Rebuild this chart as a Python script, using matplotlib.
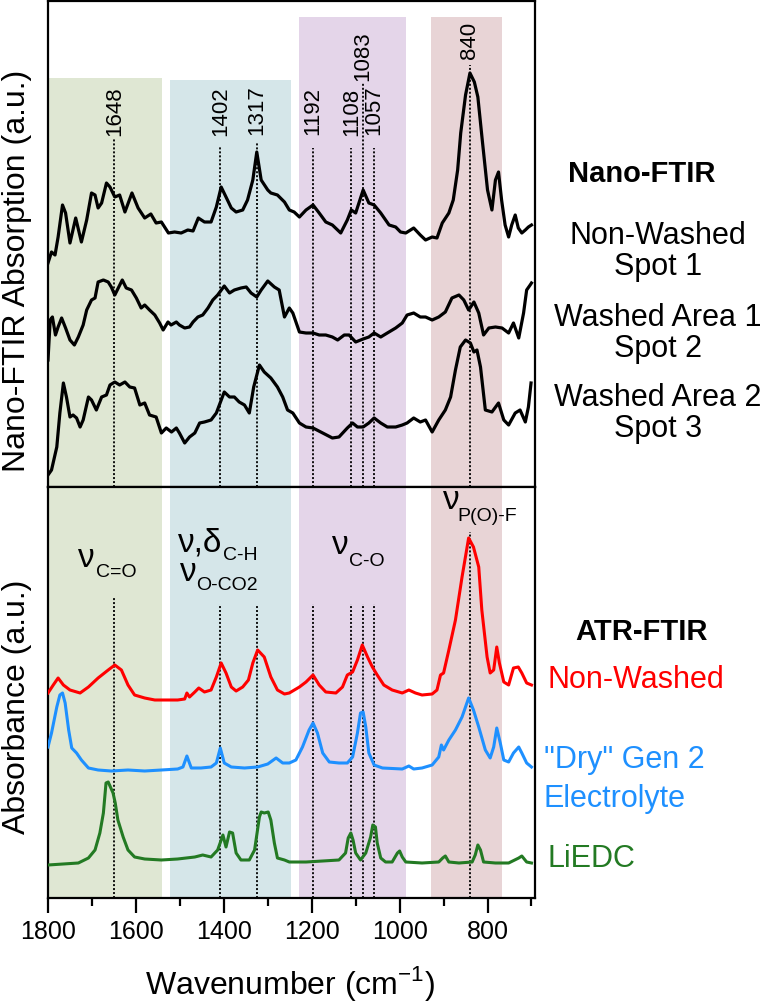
import matplotlib
matplotlib.use('Agg')
import matplotlib.pyplot as plt
from matplotlib.ticker import MultipleLocator

plt.rcParams['font.family'] = ['Liberation Sans', 'DejaVu Sans']
plt.rcParams['mathtext.fontset'] = 'custom'
plt.rcParams['mathtext.rm'] = 'Liberation Sans'

# ---------------- data (a.u., traces already vertically offset) ----------------
nano_nonwashed_wn = [1800, 1792, 1784, 1777, 1767, 1760, 1750, 1737, 1724, 1712, 1701, 1693, 1686, 1678, 1667,
                     1659, 1648, 1637, 1625, 1609, 1595, 1580, 1566, 1554, 1542, 1526, 1512, 1497, 1482, 1470,
                     1458, 1444, 1429, 1417, 1406, 1395, 1383, 1372, 1357, 1346, 1334, 1325, 1315, 1300, 1293,
                     1278, 1262, 1251, 1240, 1228, 1213, 1197, 1183, 1168, 1153, 1134, 1119, 1110, 1100, 1083,
                     1070, 1058, 1043, 1024, 1009, 998, 986, 968, 953, 941, 926, 915, 903, 888, 878, 868, 861,
                     850, 840, 830, 822, 812, 800, 790, 782, 775, 768, 760, 752, 745, 737, 730, 722, 714, 707, 700]
nano_nonwashed_y = [224, 235, 232, 250, 282, 274, 244, 269, 245, 267, 294, 292, 279, 284, 304,
                    300, 290, 292, 275, 294, 279, 269, 273, 264, 265, 254, 255, 254, 257, 256,
                    269, 265, 265, 280, 300, 290, 279, 275, 277, 287, 307, 335, 307, 297, 294,
                    292, 285, 277, 275, 270, 277, 282, 274, 265, 262, 254, 267, 277, 274, 297,
                    284, 282, 274, 262, 260, 255, 254, 259, 252, 247, 250, 249, 264, 274, 287, 317, 354,
                    392, 414, 405, 390, 347, 297, 277, 307, 315, 287, 262, 250, 262, 272, 259, 254, 257, 260, 262]

nano_washed1_wn = [1800, 1795, 1790, 1783, 1777, 1769, 1760, 1750, 1740, 1731, 1720, 1712, 1701, 1693, 1686,
                   1674, 1663, 1656, 1648, 1639, 1631, 1622, 1610, 1599, 1588, 1580, 1569, 1557, 1546, 1538,
                   1527, 1520, 1508, 1501, 1489, 1478, 1470, 1459, 1448, 1436, 1425, 1414, 1399, 1387, 1376,
                   1361, 1349, 1338, 1325, 1315, 1300, 1285, 1274, 1262, 1251, 1243, 1228, 1213, 1197, 1183,
                   1168, 1153, 1141, 1126, 1115, 1100, 1083, 1070, 1058, 1043, 1028, 1009, 994, 983, 968,
                   953, 941, 926, 911, 896, 881, 865, 854, 843, 831, 820, 809, 797, 782, 767, 752, 741,
                   729, 718, 711, 703, 700]
nano_washed1_y = [127, 167, 170, 152, 160, 169, 159, 147, 142, 150, 162, 177, 187, 189, 205,
                  207, 205, 200, 192, 200, 207, 199, 197, 189, 179, 182, 177, 172, 164, 157,
                  165, 162, 165, 162, 159, 160, 165, 170, 172, 179, 187, 192, 201, 194, 197,
                  199, 200, 194, 190, 197, 206, 200, 197, 170, 179, 174, 155, 154, 154, 152,
                  152, 150, 147, 152, 152, 145, 148, 150, 154, 150, 154, 159, 164, 172, 174,
                  170, 170, 167, 170, 175, 189, 192, 187, 177, 185, 174, 152, 159, 160, 159, 154, 164,
                  149, 174, 197, 202, 204]

nano_washed2_wn = [1800, 1792, 1780, 1773, 1765, 1758, 1750, 1743, 1735, 1727, 1720, 1708, 1701, 1690, 1678,
                   1667, 1659, 1648, 1637, 1625, 1614, 1603, 1591, 1580, 1569, 1554, 1542, 1531, 1519, 1508,
                   1501, 1489, 1478, 1466, 1455, 1444, 1429, 1417, 1399, 1387, 1376, 1365, 1353, 1342, 1332,
                   1319, 1308, 1293, 1278, 1266, 1255, 1243, 1228, 1213, 1197, 1175, 1153, 1138, 1119, 1107,
                   1096, 1083, 1070, 1058, 1043, 1028, 1009, 994, 983, 968, 953, 941, 926, 911, 896, 884,
                   873, 862, 850, 839, 831, 824, 816, 805, 790, 775, 763, 752, 737, 726, 714, 707, 701]
nano_washed2_y = [12, 17, 40, 74, 104, 90, 70, 72, 69, 60, 67, 90, 87, 77, 90,
                  92, 102, 105, 102, 105, 100, 99, 82, 84, 72, 70, 54, 59, 55, 59,
                  54, 44, 50, 54, 64, 65, 67, 74, 95, 90, 90, 85, 82, 74, 100,
                  122, 115, 109, 100, 90, 77, 74, 64, 60, 59, 54, 49, 50, 59, 64,
                  60, 60, 64, 69, 64, 60, 60, 62, 64, 69, 65, 67, 55, 67, 77, 90,
                  117, 140, 147, 144, 135, 137, 120, 77, 75, 84, 67, 62, 74, 77, 65, 80, 104]

atr_nonwashed_wn = [1800, 1788, 1777, 1765, 1750, 1727, 1708, 1686, 1663, 1648, 1633, 1618, 1603, 1580, 1557,
                    1535, 1505, 1489, 1484, 1478, 1466, 1457, 1444, 1429, 1417, 1406, 1395, 1383, 1372, 1357,
                    1344, 1334, 1323, 1308, 1293, 1278, 1262, 1251, 1228, 1213, 1197, 1183, 1168, 1145, 1130,
                    1119, 1107, 1096, 1085, 1073, 1062, 1051, 1036, 1017, 994, 979, 964, 949, 926, 915, 907,
                    900, 888, 873, 858, 843, 832, 820, 813, 801, 794, 786, 779, 773, 763, 752, 741, 730, 722,
                    711, 700]
atr_nonwashed_y = [204, 212, 219, 212, 207, 204, 210, 219, 227, 232, 227, 212, 202, 199, 197,
                   197, 197, 198, 204, 200, 205, 209, 205, 207, 220, 234, 224, 210, 206, 210,
                   217, 234, 247, 240, 220, 207, 203, 204, 210, 215, 222, 212, 205, 204, 210,
                   222, 225, 237, 252, 240, 230, 222, 212, 207, 204, 207, 204, 202, 203, 207, 222,
                   224, 247, 277, 320, 359, 350, 330, 287, 240, 224, 227, 250, 234, 215, 212, 229, 230, 224,
                   214, 212]

atr_dry_wn = [1800, 1792, 1780, 1773, 1767, 1761, 1753, 1746, 1735, 1724, 1708, 1686, 1656, 1618, 1580,
              1542, 1505, 1493, 1484, 1474, 1452, 1429, 1417, 1408, 1399, 1383, 1353, 1323, 1300, 1281,
              1266, 1251, 1236, 1221, 1206, 1197, 1187, 1175, 1160, 1138, 1119, 1107, 1096, 1089, 1083,
              1077, 1070, 1058, 1039, 994, 979, 968, 949, 926, 911, 905, 900, 888, 873, 858, 843, 832,
              820, 805, 794, 786, 779, 771, 763, 752, 741, 729, 722, 711, 700]
atr_dry_y = [150, 164, 190, 202, 204, 194, 167, 149, 144, 137, 129, 127, 126, 127, 126,
             127, 128, 130, 141, 129, 129, 130, 134, 149, 134, 130, 129, 130, 133, 139,
             134, 134, 137, 150, 167, 174, 164, 144, 135, 134, 134, 140, 164, 184, 185,
             170, 144, 132, 129, 128, 131, 128, 129, 132, 140, 152, 147, 157, 167, 180, 199, 187,
             170, 147, 139, 150, 169, 154, 137, 135, 144, 150, 144, 134, 130]

atr_liedc_wn = [1800, 1731, 1708, 1693, 1682, 1674, 1668, 1663, 1658, 1652, 1647, 1641, 1629, 1618, 1603,
                1580, 1542, 1505, 1466, 1448, 1429, 1414, 1402, 1395, 1387, 1380, 1372, 1361, 1342, 1330,
                1319, 1315, 1308, 1299, 1293, 1285, 1278, 1262, 1251, 1213, 1175, 1138, 1123, 1117, 1111,
                1106, 1100, 1089, 1077, 1066, 1061, 1055, 1051, 1043, 1032, 1017, 1005, 1000, 994, 986,
                949, 911, 902, 896, 888, 865, 835, 828, 822, 816, 809, 782, 752, 729, 722, 711, 700]
atr_liedc_y = [32, 34, 39, 47, 64, 84, 114, 115, 110, 104, 94, 77, 60, 47, 40,
               38, 37, 38, 40, 42, 40, 47, 62, 50, 65, 64, 44, 37, 37, 47,
               80, 85, 84, 85, 77, 54, 39, 37, 35, 35, 36, 37, 44, 59, 64,
               57, 44, 37, 44, 60, 72, 70, 54, 39, 35, 35, 44, 46, 40, 35,
               34, 35, 39, 41, 35, 34, 35, 42, 52, 47, 35, 34, 34, 39, 41, 35, 34]

band_ranges = [(1800, 1540), (1522, 1247), (1229, 985), (929, 766)]
band_colors = ['#dfe7d3', '#d5e6e9', '#e4d5e9', '#e8d4d6']
band_tops_nano = [409, 407, 470, 470]

line_pos = [1649, 1408, 1325, 1197, 1110, 1083, 1058, 840]
line_labels = ['1648', '1402', '1317', '1192', '1108', '1083', '1057', '840']
line_top_nano = [349, 340, 344, 339, 339, 404, 339, 422]
label_bottom_nano = [351, 351, 352, 352, 351, 406, 352, 428]
line_top_atr = [300, 292, 292, 293, 293, 293, 293, 365]

# annotation texts in ATR panel: (text, left wavenumber, baseline, size)
atr_annots = [('ν', 1732, 330, 24), ('C=O', 1691, 320, 14),
              ('ν,δ', 1504, 346, 24), ('C-H', 1401, 337, 14),
              ('ν', 1499, 316, 24), ('O-CO2', 1463, 307, 14),
              ('ν', 1153, 343, 24), ('C-O', 1116, 331, 14),
              ('ν', 902, 388, 24), ('P(O)-F', 868, 376, 14)]

nano_names = ['Non-Washed\nSpot 1', 'Washed Area 1\nSpot 2', 'Washed Area 2\nSpot 3']
nano_name_tops = [221, 303, 383]

# ---------------- figure ----------------
W, H = 769, 1001
fig = plt.figure(figsize=(W / 100, H / 100), dpi=100)


def rect(x0, y0, x1, y1):
    return [x0 / W, 1 - y1 / H, (x1 - x0) / W, (y1 - y0) / H]


ax1 = fig.add_axes(rect(48, 1, 535, 487))
ax2 = fig.add_axes(rect(48, 487, 535, 898))

for ax in (ax1, ax2):
    ax.set_xlim(1800, 692)
    for s in ax.spines.values():
        s.set_linewidth(1.6)
    ax.set_yticks([])

ax1.set_ylim(0, 486)
ax2.set_ylim(-1, 410)

for (a, b), c, t in zip(band_ranges, band_colors, band_tops_nano):
    ax1.axvspan(b, a, ymin=0, ymax=t / 486, color=c, lw=0, zorder=0)
    ax2.axvspan(b, a, color=c, lw=0, zorder=0)

for x, t1, lb, lab, t2 in zip(line_pos, line_top_nano, label_bottom_nano, line_labels, line_top_atr):
    ax1.plot([x, x], [0, t1], color='k', lw=1.3, dashes=(1.1, 1.1), zorder=1)
    ax2.plot([x, x], [-1, t2], color='k', lw=1.3, dashes=(1.1, 1.1), zorder=1)
    ax1.text(x, lb, lab, rotation=90, ha='center', va='bottom', fontsize=16)

black_lw = 2.3
ax1.plot(nano_nonwashed_wn, nano_nonwashed_y, color='k', lw=black_lw, solid_joinstyle='round', zorder=3)
ax1.plot(nano_washed1_wn, nano_washed1_y, color='k', lw=black_lw, solid_joinstyle='round', zorder=3)
ax1.plot(nano_washed2_wn, nano_washed2_y, color='k', lw=black_lw, solid_joinstyle='round', zorder=3)

red, blue, green = '#ff0000', '#1e90ff', '#237a23'
ax2.plot(atr_nonwashed_wn, atr_nonwashed_y, color=red, lw=2.2, solid_joinstyle='round', zorder=3)
ax2.plot(atr_dry_wn, atr_dry_y, color=blue, lw=2.2, solid_joinstyle='round', zorder=3)
ax2.plot(atr_liedc_wn, atr_liedc_y, color=green, lw=2.2, solid_joinstyle='round', zorder=3)

for txt, x, y, fs in atr_annots:
    ax2.text(x, y, txt, ha='left', va='baseline', fontsize=fs, zorder=4)

ax1.set_xticks([])
ax2.xaxis.set_major_locator(MultipleLocator(200))
ax2.xaxis.set_minor_locator(MultipleLocator(100))
ax2.tick_params(axis='x', which='major', length=11, width=1.6, labelsize=18, pad=5)
ax2.tick_params(axis='x', which='minor', length=6, width=1.6)
ax2.tick_params(axis='y', left=False)


def ft(x, y, s, **kw):
    fig.text(x / W, 1 - y / H, s, **kw)


ft(17, 271, 'Nano-FTIR Absorption (a.u.)', rotation=90, ha='center', va='center', fontsize=23)
ft(17, 707, 'Absorbance (a.u.)', rotation=90, ha='center', va='center', fontsize=23)
ft(290, 994, r'Wavenumber (cm$^{\mathregular{-1}}$)', ha='center', va='baseline', fontsize=23)

ft(642, 182, 'Nano-FTIR', ha='center', va='baseline', fontsize=21, fontweight='bold')
for name, top in zip(nano_names, nano_name_tops):
    ft(658, top, name, ha='center', va='top', multialignment='center', fontsize=22, linespacing=1.05)

ft(642, 640, 'ATR-FTIR', ha='center', va='baseline', fontsize=21, fontweight='bold')
ft(547, 688, 'Non-Washed', ha='left', va='baseline', fontsize=22, color=red)
ft(544, 768, '"Dry" Gen 2', ha='left', va='baseline', fontsize=22, color=blue)
ft(544, 807, 'Electrolyte', ha='left', va='baseline', fontsize=22, color=blue)
ft(547, 867, 'LiEDC', ha='left', va='baseline', fontsize=22, color=green)

fig.savefig('out.png', dpi=100)
